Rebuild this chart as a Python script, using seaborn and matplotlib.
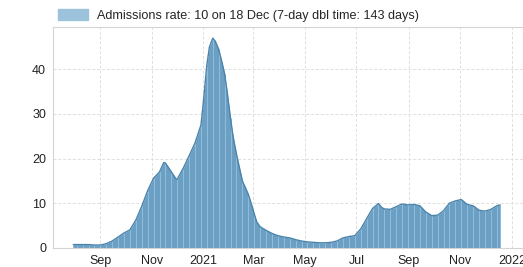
import pandas as pd
import numpy as np
import seaborn as sns
import matplotlib.pyplot as plt
import matplotlib.dates as mdates
from matplotlib.patches import Patch

# serie semanal (martes) + primer y ultimo dato
fechas = (
    [pd.Timestamp('2020-07-31')]
    + list(pd.date_range('2020-08-04', '2021-12-14', freq='7D'))
    + [pd.Timestamp('2021-12-18')]
)

tasa = [
    0.7,                                    # Jul 31
    0.7, 0.7, 0.7, 0.6, 0.6,                # Aug 4 .. Sep 1
    0.9, 1.5, 2.4, 3.3,                     # Sep
    4.0, 6.2, 9.3, 12.8,                    # Oct
    15.6, 17.0, 19.0, 17.0,                 # Nov
    15.4, 17.8, 20.6, 23.5, 27.5,           # Dec
    41.0, 47.0, 44.5, 39.0,                 # Jan 2021
    29.0, 21.0, 15.0, 12.0,                 # Feb
    7.6, 4.7, 3.9, 3.2, 2.7,                # Mar
    2.4, 2.2, 1.8, 1.5,                     # Apr
    1.3, 1.2, 1.1, 1.1,                     # May
    1.2, 1.5, 2.2, 2.5, 2.7,                # Jun
    4.2, 6.5, 8.8, 9.9,                     # Jul
    8.7, 8.6, 9.2, 9.8, 9.6,                # Aug
    9.7, 9.4, 8.0, 7.2,                     # Sep
    7.3, 8.3, 10.0, 10.5,                   # Oct
    10.8, 9.7, 9.4, 8.4, 8.2,               # Nov
    8.6, 9.4, 9.6,                          # Dec
]

fechas_extra = pd.to_datetime([
    '2020-11-15', '2020-11-30', '2020-12-31', '2021-01-02', '2021-01-08',
    '2021-01-15', '2021-01-23', '2021-01-29', '2021-02-05', '2021-02-27',
    '2021-03-05', '2021-07-31',
])
tasa_extra = [19.1, 15.3, 31.0, 35.0, 45.0,
              46.3, 41.5, 35.0, 25.0, 9.6,
              5.8, 9.0]

etiqueta = 'Admissions rate: 10 on 18 Dec (7-day dbl time: 143 days)'

semanal = pd.DataFrame({'fecha': fechas, 'tasa': tasa})
curva = (pd.concat([semanal, pd.DataFrame({'fecha': fechas_extra, 'tasa': tasa_extra})])
         .sort_values('fecha').reset_index(drop=True))

sns.set_style('whitegrid')
plt.rcParams['font.family'] = ['Liberation Sans', 'DejaVu Sans']

fig = plt.figure(figsize=(5.23, 2.67), dpi=100)
ax = fig.add_axes([53 / 523, 19.3 / 267, 1 - 53 / 523, 220.7 / 267])

ax.fill_between(curva['fecha'], curva['tasa'], color='#6b9fc3', lw=0)
ax.vlines(semanal['fecha'], 0, semanal['tasa'], color='#92bddb', lw=0.7)
sns.lineplot(data=curva, x='fecha', y='tasa', ax=ax, color='#4a84ab', lw=1.0)

ax.set_xlim(pd.Timestamp('2020-07-07'), pd.Timestamp('2022-01-14'))
ax.set_ylim(0, 49.5)
ax.set_yticks([0, 10, 20, 30, 40])

ax.xaxis.set_major_locator(mdates.MonthLocator(bymonth=[1, 3, 5, 7, 9, 11]))
ax.xaxis.set_major_formatter(
    plt.FuncFormatter(lambda v, p: mdates.num2date(v).strftime('%Y')
                      if mdates.num2date(v).month == 1
                      else mdates.num2date(v).strftime('%b')))

ax.grid(True, color='#dedede', ls=(0, (3, 2)), lw=0.7)
for s in ax.spines.values():
    s.set_color('#d4d4d4')
    s.set_linewidth(0.8)
ax.tick_params(length=0, labelsize=9, colors='#222222', pad=5)
ax.set_xlabel('')
ax.set_ylabel('')

ax.legend(handles=[Patch(color='#9cc2dc', label=etiqueta)],
          loc='lower left', bbox_to_anchor=(0.0, 1.0), frameon=False,
          fontsize=9.1, handlelength=2.4, handleheight=0.9,
          borderaxespad=0.2, borderpad=0.2, handletextpad=0.7)

plt.savefig('out.png', dpi=100)
plt.close()
